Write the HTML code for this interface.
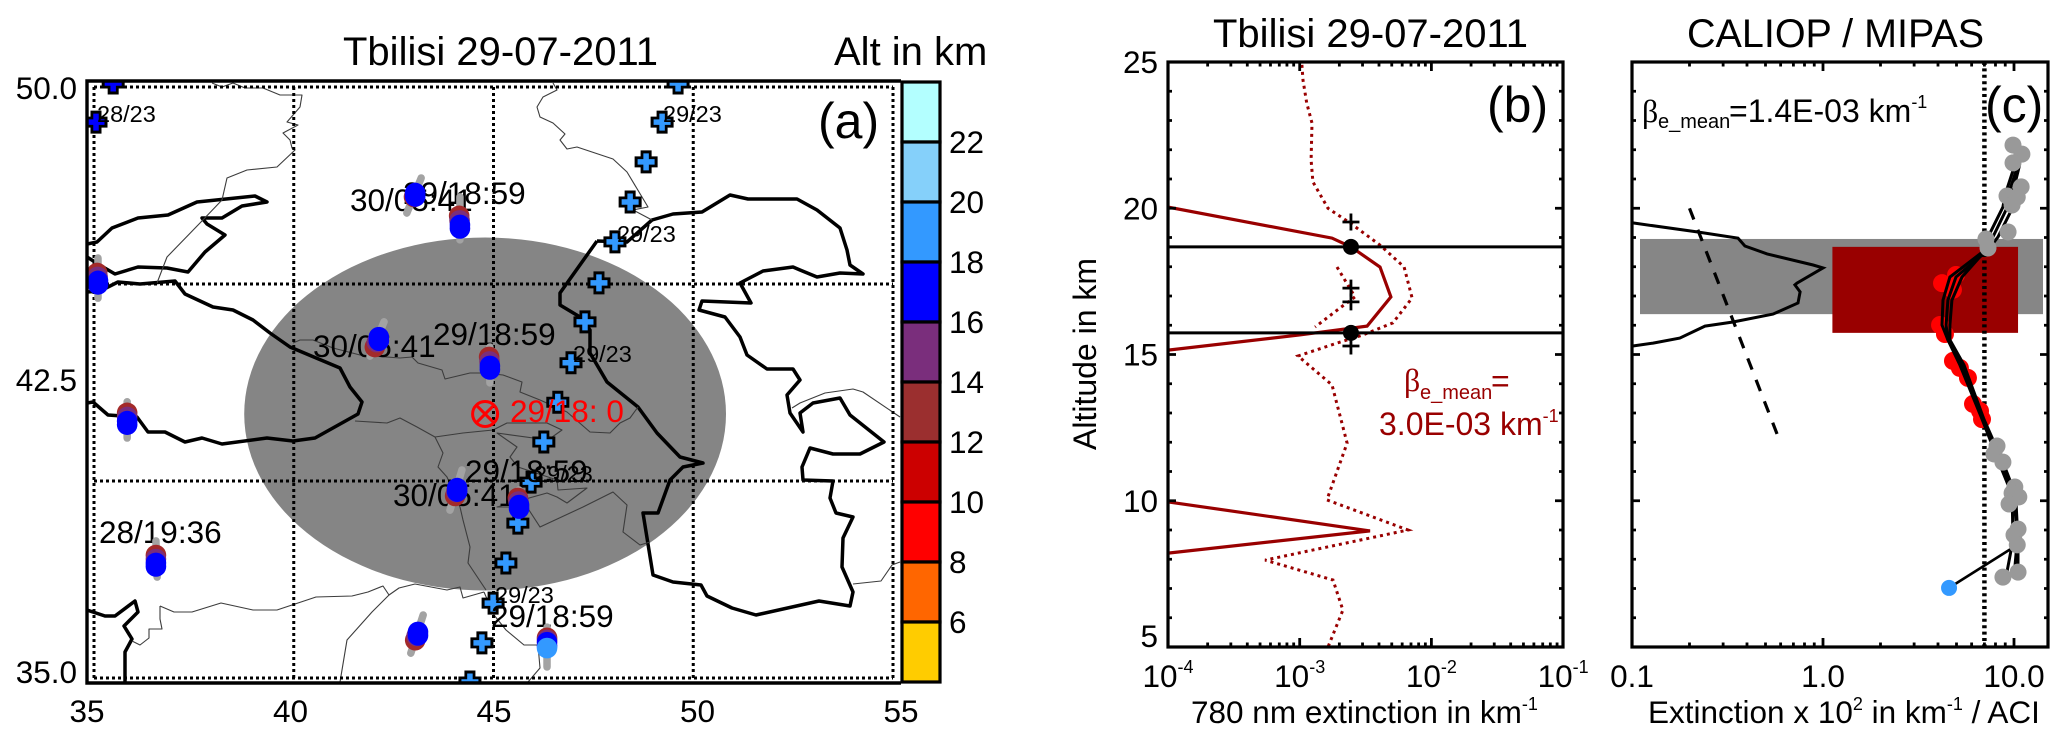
<!DOCTYPE html>
<html>
<head>
<meta charset="utf-8">
<title>Tbilisi 29-07-2011</title>
<style>
html,body{margin:0;padding:0;background:#fff;}
svg{display:block;}
text{font-family:"Liberation Sans",sans-serif;fill:#000;}
.coast{fill:none;stroke:#000;stroke-width:3.5;stroke-linejoin:round;}
.border{fill:none;stroke:#3c3c3c;stroke-width:1.1;stroke-linejoin:round;}
</style>
</head>
<body>
<svg id="figure" xmlns="http://www.w3.org/2000/svg" width="2067" height="742" viewBox="0 0 2067 742">
<defs>
<clipPath id="clip-a"><rect x="87" y="81" width="814" height="602"/></clipPath>
<clipPath id="clip-b"><rect x="1168" y="62" width="395" height="585"/></clipPath>
<clipPath id="clip-c"><rect x="1632" y="62" width="416" height="585"/></clipPath>
</defs>
<rect x="0" y="0" width="2067" height="742" fill="#fff"/>

<g id="panel-a">
  <text x="343" y="65" font-size="40">Tbilisi 29-07-2011</text>
  <text x="834" y="65" font-size="40">Alt in km</text>
  <g id="ellipse-layer"></g>
  <g clip-path="url(#clip-a)">
    <polyline class="coast" points="87,244 97,242 112,228 138,218 168,215 197,202 255,196 267,202 242,206 222,218 202,218 207,224 225,235 205,252 188,272 167,268 138,267 115,274 103,267 87,257"/>
    <polyline class="coast" points="87,292 100,291 118,282 140,284 175,281 185,294 213,307 233,310 253,320 270,333 290,347 340,368 350,387 362,402 358,414 315,438 293,441 267,438 222,444 202,438 185,442 165,432 148,432 137,417 108,415 93,402 87,403"/>
    <polyline class="coast" points="597,241 627,242 652,220 673,214 702,212 730,195 748,199 797,199 817,210 840,228 847,250 850,265 863,274 840,273 817,277 800,270 793,267 763,271 740,283 751,303 702,301 699,310 725,317 740,337 747,355 767,369 793,369 800,380 787,395 790,413 803,432 800,413 813,403 840,398 850,415 884,442 860,454 833,454 810,448 802,467 803,480 833,481 830,498 836,513 853,517 843,538 842,567 853,592 850,606 819,601 756,615 732,608 707,596 701,585 673,582 653,575 643,513 658,513 670,480 683,467 703,463 680,457 657,433 638,407 607,382 590,353 590,330 580,317 560,305 560,293 597,241"/>
    <polyline class="coast" points="87,610 105,616 115,616 135,601 138,612 124,626 132,639 125,652 125,683"/>
    <polyline class="border" points="212,83 222,87 233,83 245,88 263,88 280,95 302,95 300,107 287,122 298,125 283,133 290,140 292,148 295,150 277,167 247,170 227,178 222,200 200,223 167,257 157,283"/>
    <polyline class="border" points="553,83 557,90 543,97 537,107 540,117 553,123 565,134 560,140 567,149 577,147 613,159 627,172 648,207 633,210 652,220"/>
    <polyline class="border" points="293,343 300,340 313,340 333,348 360,355 400,358 412,357 418,363 442,370 445,379 470,373 483,373 503,375 522,382 520,392 540,400 567,412 590,432 610,433 620,423 630,418 638,407"/>
    <polyline class="border" points="355,421 387,423 400,418 417,427 435,437 443,453 438,467 447,477 460,507 463,520 470,547 468,563 486,590"/>
    <polyline class="border" points="160,606 174,612 192,612 221,603 253,610 277,610 316,597 352,596 368,592 383,586 389,595 399,588 415,584 447,590 460,587 463,598 484,592"/>
    <polyline class="border" points="160,606 160,619 162,629 149,629 149,638 140,645 132,641"/>
    <polyline class="border" points="389,595 372,612 347,640 340,682"/>
    <polyline class="border" points="484,592 494,615 506,630 524,645 538,645 540,668 528,682"/>
    <polyline class="border" points="435,437 463,433 493,430 507,423 547,423 562,430 548,440 497,433 517,447 510,457 518,467 557,480 558,490 587,488 567,503 557,497 547,493 497,507 527,507 540,527 583,507 613,492 627,505 623,532 640,545 650,542"/>
    <polyline class="border" points="792,408 800,403 825,393 853,389 863,392 900,417"/>
    <polyline class="border" points="853,584 881,581 892,565 900,562"/>
  </g>
  <g id="map-grid"></g>
  <g id="cross-layer" clip-path="url(#clip-a)"></g>
  <g id="map-labels" font-size="31.5">
    <text x="97" y="122" font-size="23.5">28/23</text>
    <text x="663" y="122" font-size="23.5">29/23</text>
    <text x="617" y="242" font-size="23.5">29/23</text>
    <text x="573" y="362" font-size="23.5">29/23</text>
    <text x="534" y="482" font-size="23.5">29/23</text>
    <text x="495" y="603" font-size="23.5">29/23</text>
    <text x="403" y="204">29/18:59</text>
    <text x="350" y="211">30/05:41</text>
    <text x="433" y="345">29/18:59</text>
    <text x="313" y="357">30/05:41</text>
    <text x="465" y="482">29/18:59</text>
    <text x="393" y="506">30/05:41</text>
    <text x="99" y="543">28/19:36</text>
    <text x="491" y="627">29/18:59</text>
    <text x="510" y="422" style="fill:#ff0000">29/18: 0</text>
  </g>
  <g id="blob-layer" clip-path="url(#clip-a)"></g>
  <g id="station-layer"></g>
  <text x="818" y="138" font-size="50">(a)</text>
  <g id="map-ticks" font-size="31.5"></g>
  <g id="colorbar"></g>
  <polyline points="901,81 87,81 87,683 901,683" fill="none" stroke="#000" stroke-width="3.4"/>
</g>

<g id="panel-b">
  <text x="1213" y="47" font-size="40">Tbilisi 29-07-2011</text>
  <g id="b-series" clip-path="url(#clip-b)"></g>
  <g id="b-axes"></g>
  <text x="1487" y="122" font-size="50">(b)</text>
  <text x="1404" y="391" font-size="32" style="font-family:'Liberation Serif',serif;fill:#990000">β</text>
  <text x="1420" y="399" font-size="20" style="fill:#990000">e_mean</text>
  <text x="1491" y="392" font-size="32" style="fill:#990000">=</text>
  <text x="1379" y="435" font-size="32" style="fill:#990000">3.0E-03 km<tspan font-size="18" dy="-13">-1</tspan></text>
  <text transform="translate(1096,450) rotate(-90)" font-size="32">Altitude in km</text>
  <text x="1191" y="723" font-size="31.5">780 nm extinction in km<tspan font-size="18" dy="-13">-1</tspan></text>
</g>

<g id="panel-c">
  <text x="1687" y="47" font-size="39.5">CALIOP / MIPAS</text>
  <g id="c-series" clip-path="url(#clip-c)"></g>
  <g id="c-axes"></g>
  <text x="1985" y="122" font-size="50">(c)</text>
  <text x="1642" y="122" font-size="32" style="font-family:'Liberation Serif',serif">β</text>
  <text x="1658" y="128" font-size="20">e_mean</text>
  <text x="1729" y="122" font-size="32">=1.4E-03 km<tspan font-size="18" dy="-14">-1</tspan></text>
  <text x="1648" y="723" font-size="31.5">Extinction x 10<tspan font-size="18" dy="-13">2</tspan><tspan dy="13"> in km</tspan><tspan font-size="18" dy="-13">-1</tspan><tspan dy="13"> / ACI</tspan></text>
</g>
</svg>

<script>
/* ---------- Panel (a) data ---------- */
const mapLonTicks = [35, 40, 45, 50, 55];
const mapLatTicks = [50, 42.5, 35];
const gridLons = [35, 40, 45, 50, 55];
const gridLats = [35, 40, 45, 50];
const colorbarLevels = [24, 22, 20, 18, 16, 14, 12, 10, 8, 6];
const colorbarColors = ['#b3ffff', '#85d0fa', '#3399ff', '#0000ff', '#7a2e7c', '#9b2f2f', '#cc0000', '#ff0000', '#ff6600', '#ffcc00'];
const colorbarTicks = [22, 20, 18, 16, 14, 12, 10, 8, 6];

const crossDarkLon = [35.48, 35.05];
const crossDarkLat = [50.10, 49.11];
const crossLightLon = [49.62, 49.22, 48.82, 48.42, 48.04, 47.64, 47.29, 46.94, 46.61, 46.26, 45.94, 45.61, 45.31, 44.99, 44.71, 44.41];
const crossLightLat = [50.10, 49.11, 48.10, 47.08, 46.07, 45.03, 44.04, 43.00, 42.00, 40.99, 39.97, 38.93, 37.92, 36.90, 35.89, 34.90];

const tailTopLon = [35.10, 43.19, 44.16, 35.83, 36.55, 42.26, 44.91, 44.21, 45.64, 43.24, 46.34];
const tailTopLat = [45.66, 47.69, 47.21, 42.01, 38.48, 44.04, 43.40, 40.28, 39.77, 36.60, 36.29];
const tailBotLon = [35.10, 42.83, 44.16, 35.83, 36.58, 41.91, 44.91, 43.91, 45.64, 42.93, 46.34];
const tailBotLat = [44.64, 46.80, 46.12, 41.09, 37.56, 43.17, 42.49, 39.26, 39.14, 35.63, 35.28];
const brownLon = [35.08, 43.01, 44.14, 35.83, 36.55, 42.03, 44.89, 44.04, 45.61, 43.04, 46.34];
const brownLat = [45.28, 47.21, 46.73, 41.73, 38.12, 43.40, 43.15, 39.62, 39.57, 35.96, 36.02];
const blueLon = [35.10, 43.04, 44.16, 35.83, 36.55, 42.13, 44.91, 44.09, 45.64, 43.11, 46.34];
const blueLat = [45.08, 47.31, 46.50, 41.52, 37.92, 43.65, 42.92, 39.82, 39.39, 36.17, 35.91];
const lowestLon = [46.34];
const lowestLat = [35.76];

const stationLon = [44.79];
const stationLat = [41.7];
const ellipseLonRadius = [6.03];
const ellipseLatRadius = [4.48];

/* ---------- Panel (b) data ---------- */
const altTicks = [5, 10, 15, 20, 25];
const bExponents = [-4, -3, -2, -1];
const upperProfileExt = [1e-4, 1.76e-3, 2.45e-3, 4.07e-3, 4.93e-3, 3.25e-3, 1e-3, 1e-4];
const upperProfileAlt = [20.04, 18.98, 18.68, 17.99, 16.97, 15.97, 15.67, 15.15];
const lowerProfileExt = [1e-4, 3.42e-3, 1e-4];
const lowerProfileAlt = [9.96, 8.97, 8.21];
const errorUpperExt = [1.04e-3, 1.06e-3, 1.13e-3, 1.24e-3, 1.22e-3, 1.26e-3, 1.64e-3, 2.41e-3, 4.07e-3, 6.2e-3, 7.13e-3, 5.1e-3, 3.03e-3, 1.92e-3, 9.7e-4, 1.76e-3, 2.29e-3, 1.61e-3, 6.64e-3, 5.46e-4, 1.79e-3, 2.13e-3, 1.64e-3];
const errorUpperAlt = [24.9, 24.38, 23.6, 22.91, 21.65, 20.9, 20.0, 19.5, 18.74, 17.99, 16.93, 16.08, 15.67, 15.39, 14.95, 13.96, 11.97, 10.03, 9.0, 7.97, 7.29, 6.26, 5.0];
const errorLowerExt = [1.92e-3, 2.63e-3, 2.02e-3, 1.31e-3];
const errorLowerAlt = [17.99, 16.97, 16.59, 15.94];
const layerAlts = [18.68, 15.74];
const layerExt = [2.45e-3];
const plusAlts = [19.53, 17.27, 16.8, 15.29];

/* ---------- Panel (c) data ---------- */
const cTicks = [0.1, 1, 10];
const cTickLabels = ['0.1', '1.0', '10.0'];
const caliopExt = [0.101, 0.219, 0.359, 0.39, 0.51, 0.887, 1.0, 0.731, 0.713, 0.759, 0.74, 0.547, 0.338, 0.241, 0.178, 0.129, 0.101];
const caliopAlt = [19.5, 19.19, 18.98, 18.71, 18.44, 18.06, 17.96, 17.44, 17.38, 17.14, 16.76, 16.38, 16.11, 15.97, 15.56, 15.39, 15.29];
const referenceExt = [0.2, 0.6];
const referenceAlt = [20.0, 11.97];
const aciValue = [7.0];
const caliopBoxAlt = [18.95, 16.38];
const mipasBoxExt = [1.12, 10.5];
const mipasBoxAlt = [18.68, 15.74];
const mipasPointExt = [9.88, 11.0, 9.88, 10.9, 9.19, 10.4, 9.77, 9.31, 7.13, 7.31, 8.15, 7.85, 8.75, 10.1, 9.77, 10.6, 9.42, 10.5, 10.0, 10.4, 10.5, 8.75, 4.97, 4.20, 4.79, 4.10, 4.35, 4.79, 5.21, 5.74, 6.10, 6.64, 6.80];
const mipasPointAlt = [22.16, 21.85, 21.55, 20.73, 20.42, 20.38, 20.11, 19.19, 18.95, 18.64, 11.87, 11.60, 11.32, 10.47, 10.26, 10.13, 9.89, 9.03, 8.83, 8.49, 7.56, 7.39, 17.72, 17.44, 17.21, 16.01, 15.70, 14.78, 14.54, 14.20, 13.31, 13.07, 12.79];
const mipasLine1Ext = [10.1, 8.97, 8.75, 7.49, 7.05, 4.62, 4.25, 4.20, 4.51, 5.21, 6.80, 8.45, 9.77, 9.88, 9.08];
const mipasLine1Alt = [21.48, 20.45, 20.04, 19.15, 18.57, 17.65, 16.86, 16.01, 15.50, 14.64, 12.79, 11.22, 10.20, 8.66, 7.39];
const mipasLine2Ext = [10.7, 9.77, 9.53, 8.25, 7.31, 4.97, 4.51, 4.41, 4.51, 5.34, 6.89, 8.65, 10.0, 10.4, 10.0];
const mipasLine2Alt = [21.48, 20.45, 19.84, 19.02, 18.57, 17.65, 16.86, 16.01, 15.50, 14.64, 12.79, 11.22, 10.20, 8.66, 7.39];
const mipasLine3Ext = [10.5, 9.31, 9.08, 7.85, 7.13, 5.34, 4.73, 4.62, 4.62, 5.47, 6.96, 8.87, 10.2, 10.5, 10.5];
const mipasLine3Alt = [21.48, 20.45, 19.94, 19.09, 18.57, 17.65, 16.86, 16.01, 15.50, 14.64, 12.79, 11.22, 10.20, 8.66, 7.56];
const groundExt = [10.4, 4.57];
const groundAlt = [8.49, 7.02];

/* ---------- Axis functions ---------- */
const lonX = lon => 94 + (lon - 35) * 39.95;
const latY = lat => 678 - (lat - 35) * 39.4;
const tickLonX = lon => 87 + (lon - 35) * 40.7;
const tickLatY = lat => 683 - (lat - 35) * 38.93;
const colorY = level => 142 + (22 - level) * 30;
const bX = e => 1168 + (Math.log10(e) + 4) * 131.7;
const cX = e => 1632 + (Math.log10(e) + 1) * 191;
const altY = a => 647 - (a - 5) * 29.25;

const NS = 'http://www.w3.org/2000/svg';
function el(tag, attrs, parent, text) {
  const node = document.createElementNS(NS, tag);
  for (const key in attrs) node.setAttribute(key, attrs[key]);
  if (text !== undefined) node.textContent = text;
  parent.appendChild(node);
  return node;
}
const $ = id => document.getElementById(id);

/* ---------- Panel (a) drawing ---------- */
const ellipseShape = el('ellipse', {cx: lonX(stationLon[0]), cy: latY(stationLat[0]), rx: ellipseLonRadius[0] * 39.95, ry: ellipseLatRadius[0] * 39.4, fill: '#858585'}, $('ellipse-layer'));



gridLons.forEach(lon => {
  const gridLine = el('line', {x1: lonX(lon), x2: lonX(lon), y1: latY(50), y2: latY(35), stroke: '#000', 'stroke-width': 3, 'stroke-dasharray': '3 3'}, $('map-grid'));
  
  
});
gridLats.forEach(lat => {
  const gridLine = el('line', {x1: lonX(35), x2: lonX(55), y1: latY(lat), y2: latY(lat), stroke: '#000', 'stroke-width': 3, 'stroke-dasharray': '3 3'}, $('map-grid'));
  
  
});

function drawCross(lon, lat, color) {
  const x = lonX(lon), y = latY(lat);
  const d = a => `M${x - a} ${y}H${x + a}M${x} ${y - a}V${y + a}`;
  const outline = el('path', {d: d(11.5), stroke: '#000', 'stroke-width': 11, fill: 'none'}, $('cross-layer'));
  
  
  const inner = el('path', {d: d(8.5), stroke: color, 'stroke-width': 5.5, fill: 'none'}, $('cross-layer'));
  
  
}
crossDarkLon.forEach((lon, i) => drawCross(lon, crossDarkLat[i], '#0000ff'));
crossLightLon.forEach((lon, i) => drawCross(lon, crossLightLat[i], '#3399ff'));

function drawDisc(lon, lat, color, name) {
  const disc = el('circle', {cx: lonX(lon), cy: latY(lat), r: 10.3, fill: color}, $('blob-layer'));
  
  
}
blueLon.forEach((lon, i) => {
  const tail = el('line', {x1: lonX(tailTopLon[i]), y1: latY(tailTopLat[i]), x2: lonX(tailBotLon[i]), y2: latY(tailBotLat[i]), stroke: '#a3a3a3', 'stroke-width': 7.5, 'stroke-linecap': 'round'}, $('blob-layer'));
  
  
  drawDisc(brownLon[i], brownLat[i], '#a32a2a', 'altitude-disc-12km');
  drawDisc((brownLon[i] + lon) / 2, (brownLat[i] + blueLat[i]) / 2, '#7a2e7c', 'altitude-disc-14km');
  drawDisc(lon, blueLat[i] - 0.09, '#0000ff', 'altitude-disc-16km');
  drawDisc(lon, blueLat[i], '#0000ff', 'altitude-disc-18km');
});
lowestLon.forEach((lon, i) => drawDisc(lon, lowestLat[i], '#3399ff', 'altitude-disc-20km'));

const stationRing = el('circle', {cx: lonX(stationLon[0]), cy: latY(stationLat[0]), r: 12.5, fill: 'none', stroke: '#ff0000', 'stroke-width': 3}, $('station-layer'));


const stationX = lonX(stationLon[0]), stationY = latY(stationLat[0]);
const stationCross = el('path', {d: `M${stationX - 8.8} ${stationY - 8.8}L${stationX + 8.8} ${stationY + 8.8}M${stationX + 8.8} ${stationY - 8.8}L${stationX - 8.8} ${stationY + 8.8}`, stroke: '#ff0000', 'stroke-width': 3, fill: 'none'}, $('station-layer'));



mapLonTicks.forEach(lon => {
  const label = el('text', {x: tickLonX(lon), y: 722, 'text-anchor': 'middle'}, $('map-ticks'), String(lon));
  
  
});
mapLatTicks.forEach(lat => {
  const label = el('text', {x: 77, y: tickLatY(lat), 'text-anchor': 'end'}, $('map-ticks'), lat.toFixed(1));
  
  
});

colorbarLevels.forEach((level, i) => {
  const swatch = el('rect', {x: 902, y: colorY(level), width: 38, height: colorY(level - 2) - colorY(level), fill: colorbarColors[i], stroke: '#000', 'stroke-width': 3.2}, $('colorbar'));
  
  
});
colorbarTicks.forEach(tick => {
  const label = el('text', {x: 949, y: colorY(tick) + 11, 'font-size': 31.5}, $('colorbar'), String(tick));
  
  
});

/* ---------- Shared axis frame ---------- */
function drawFrame(parent, xFn, left, right, decades, yLabels) {
  const top = 62, bottom = 647;
  const frame = el('rect', {x: left, y: top, width: right - left, height: bottom - top, fill: 'none', stroke: '#000', 'stroke-width': 3.2}, parent);
  
  
  let d = '';
  for (let a = 5; a <= 25; a++) {
    const len = a % 5 === 0 ? 8 : 4;
    d += `M${left} ${altY(a)}h${len}M${right} ${altY(a)}h${-len}`;
  }
  decades.forEach(base => {
    for (let m = 1; m <= 9; m++) {
      const x = xFn(base * m);
      if (x < left || x > right) continue;
      const len = m === 1 ? 9 : 4.5;
      d += `M${x} ${bottom}v${-len}M${x} ${top}v${len}`;
    }
  });
  const ticks = el('path', {d: d, stroke: '#000', 'stroke-width': 2.8, fill: 'none'}, parent);
  
  
  if (yLabels) altTicks.forEach(a => {
    const label = el('text', {x: left - 10, y: a === 5 ? 647 : altY(a) + 11, 'text-anchor': 'end', 'font-size': 31.5}, parent, String(a));
    
    
  });
}
const linePoints = (xs, ys, xFn) => xs.map((v, i) => xFn(v).toFixed(1) + ',' + altY(ys[i]).toFixed(1)).join(' ');

/* ---------- Panel (b) drawing ---------- */
const errorUpperLine = el('polyline', {points: linePoints(errorUpperExt, errorUpperAlt, bX), fill: 'none', stroke: '#990000', 'stroke-width': 3, 'stroke-dasharray': '3 4'}, $('b-series'));


const errorLowerLine = el('polyline', {points: linePoints(errorLowerExt, errorLowerAlt, bX), fill: 'none', stroke: '#990000', 'stroke-width': 3, 'stroke-dasharray': '3 4'}, $('b-series'));


const upperLine = el('polyline', {points: linePoints(upperProfileExt, upperProfileAlt, bX), fill: 'none', stroke: '#990000', 'stroke-width': 3.2}, $('b-series'));


const lowerLine = el('polyline', {points: linePoints(lowerProfileExt, lowerProfileAlt, bX), fill: 'none', stroke: '#990000', 'stroke-width': 3.2}, $('b-series'));


layerAlts.forEach(a => {
  const layerLine = el('line', {x1: 1168, x2: 1563, y1: altY(a), y2: altY(a), stroke: '#000', 'stroke-width': 3}, $('b-series'));
  
  
  const layerDot = el('circle', {cx: bX(layerExt[0]), cy: altY(a), r: 8, fill: '#000'}, $('b-series'));
  
  
});
plusAlts.forEach(a => {
  const x = bX(layerExt[0]), y = altY(a);
  const plus = el('path', {d: `M${x - 8.5} ${y}H${x + 8.5}M${x} ${y - 8.5}V${y + 8.5}`, stroke: '#000', 'stroke-width': 2.8, fill: 'none'}, $('b-series'));
  
  
});
drawFrame($('b-axes'), bX, 1168, 1563, [1e-4, 1e-3, 1e-2, 1e-1], true);
bExponents.forEach(exp => {
  const label = el('text', {x: bX(Math.pow(10, exp)), y: 687, 'text-anchor': 'middle', 'font-size': 31.5}, $('b-axes'));
  
  
  label.appendChild(document.createTextNode('10'));
  const sup = el('tspan', {'font-size': 18, dy: -14}, label, String(exp));
  
  
});

/* ---------- Panel (c) drawing ---------- */
const caliopBox = el('rect', {x: 1640, y: altY(caliopBoxAlt[0]), width: 403, height: altY(caliopBoxAlt[1]) - altY(caliopBoxAlt[0]), fill: '#868686'}, $('c-series'));


const mipasBox = el('rect', {x: cX(mipasBoxExt[0]), y: altY(mipasBoxAlt[0]), width: cX(mipasBoxExt[1]) - cX(mipasBoxExt[0]), height: altY(mipasBoxAlt[1]) - altY(mipasBoxAlt[0]), fill: '#990000'}, $('c-series'));


const aciLine = el('line', {x1: cX(aciValue[0]), x2: cX(aciValue[0]), y1: 62, y2: 647, stroke: '#000', 'stroke-width': 4.5, 'stroke-dasharray': '3 3.4'}, $('c-series'));


const referenceLine = el('polyline', {points: linePoints(referenceExt, referenceAlt, cX), fill: 'none', stroke: '#000', 'stroke-width': 3.2, 'stroke-dasharray': '12 11'}, $('c-series'));


const caliopLine = el('polyline', {points: linePoints(caliopExt, caliopAlt, cX), fill: 'none', stroke: '#000', 'stroke-width': 3}, $('c-series'));



/* red aerosol points sit under the profile lines, grey points sit on top of them */
mipasPointExt.forEach((v, i) => {
  const inLayer = mipasPointAlt[i] > 12.5 && mipasPointAlt[i] < 18;
  if (!inLayer) return;
  const dot = el('circle', {cx: cX(v), cy: altY(mipasPointAlt[i]), r: 9, fill: '#ff0000'}, $('c-series'));
  
  
});
const mipasLines = [[mipasLine1Ext, mipasLine1Alt], [mipasLine2Ext, mipasLine2Alt], [mipasLine3Ext, mipasLine3Alt]];
mipasLines.forEach(([xs, ys]) => {
  const profile = el('polyline', {points: linePoints(xs, ys, cX), fill: 'none', stroke: '#000', 'stroke-width': 3}, $('c-series'));
  
  
});
const groundLine = el('polyline', {points: linePoints(groundExt, groundAlt, cX), fill: 'none', stroke: '#000', 'stroke-width': 2.6}, $('c-series'));


mipasPointExt.forEach((v, i) => {
  const inLayer = mipasPointAlt[i] > 12.5 && mipasPointAlt[i] < 18;
  if (inLayer) return;
  const dot = el('circle', {cx: cX(v), cy: altY(mipasPointAlt[i]), r: 8.5, fill: '#999999'}, $('c-series'));
  
  
});
const groundDot = el('circle', {cx: cX(groundExt[1]), cy: altY(groundAlt[1]), r: 8, fill: '#3399ff'}, $('c-series'));



drawFrame($('c-axes'), cX, 1632, 2048, [0.1, 1, 10], false);
cTicks.forEach((tick, i) => {
  const label = el('text', {x: cX(tick), y: 687, 'text-anchor': 'middle', 'font-size': 31.5}, $('c-axes'), cTickLabels[i]);
  
  
});
</script>
</body>
</html>
